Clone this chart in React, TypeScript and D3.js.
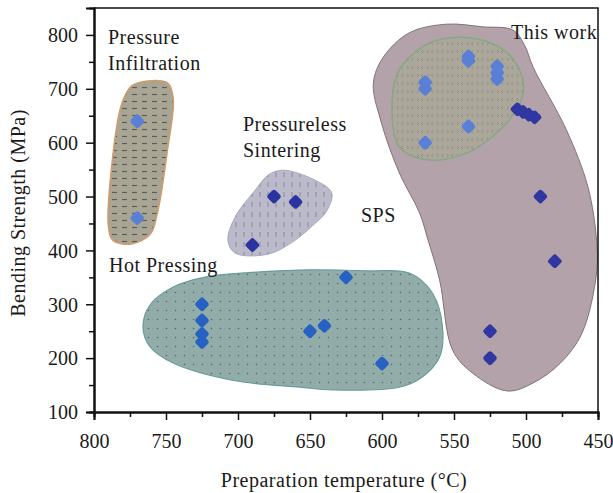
import React, { useEffect, useRef } from 'react';
import * as d3 from 'd3';

const W = 613;
const H = 493;
const FONT = '"Liberation Serif", "DejaVu Serif", serif';

// axis ticks
const xTicks = [800, 750, 700, 650, 600, 550, 500, 450];
const xMinorTicks = [775, 725, 675, 625, 575, 525, 475];
const yTicks = [100, 200, 300, 400, 500, 600, 700, 800];
const yMinorTicks = [150, 250, 350, 450, 550, 650, 750];

// region outlines, [temperature °C, strength MPa]
const infiltrationRegion = [
  [761, 715], [749, 711], [745, 683], [749, 586], [756, 469], [761, 430],
  [774, 412], [787, 419], [790, 445], [788, 549], [781, 670], [774, 705],
];
const pressurelessRegion = [
  [669, 549], [647, 531], [635, 507], [638, 475], [649, 444], [663, 414],
  [679, 393], [702, 395], [707, 419], [702, 462], [688, 512], [679, 540],
];
const hotPressingRegion = [
  [766, 258], [761, 299], [745, 332], [722, 351], [685, 360], [650, 364],
  [610, 362], [581, 358], [565, 321], [558, 258], [560, 202], [572, 165],
  [588, 146], [634, 141], [657, 146], [704, 159], [745, 191], [761, 221],
];
const thisWorkRegion = [
  [555, 820], [530, 815], [509, 809], [501, 781], [495, 740], [472, 624],
  [457, 518], [451, 419], [451, 358], [461, 247], [476, 191], [495, 154],
  [513, 139], [537, 172], [551, 215], [560, 345], [568, 419], [574, 470],
  [588, 544], [601, 642], [606, 711], [599, 759], [581, 804],
];
const spsRegion = [
  [567, 785], [537, 794], [513, 767], [502, 716], [504, 674], [518, 624],
  [541, 581], [567, 568], [588, 592], [593, 674], [588, 735],
];

// measured points
const infiltrationPoints = [[770, 640], [770, 460]];
const pressurelessPoints = [[675, 500], [660, 490], [690, 410]];
const hotPressingPoints = [
  [725, 300], [725, 270], [725, 245], [725, 230],
  [650, 250], [640, 260], [625, 350], [600, 190],
];
const spsPoints = [
  [570, 700], [570, 712], [540, 752], [540, 760], [520, 718], [520, 730],
  [520, 742], [540, 630], [570, 600],
];
const thisWorkPoints = [
  [506, 662], [502, 657], [498, 652], [494, 647],
  [490, 500], [480, 380], [525, 250], [525, 200],
];

const App = () => {
  const svgRef = useRef(null);

  useEffect(() => {
    const svg = d3.select(svgRef.current);
    svg.selectAll('*').remove();

    const x = d3.scaleLinear().domain([800, 450]).range([94, 598]);
    const y = d3.scaleLinear().domain([100, 850]).range([412, 8]);

    const defs = svg.append('defs');

    // horizontal dashes
    const p1 = defs.append('pattern').attr('id', 'dash-h')
      .attr('patternUnits', 'userSpaceOnUse').attr('width', 10).attr('height', 7);
    p1.append('rect').attr('width', 10).attr('height', 7).attr('fill', '#a8a594');
    p1.append('line').attr('x1', 2).attr('x2', 7).attr('y1', 3.5).attr('y2', 3.5)
      .attr('stroke', '#5e5e58').attr('stroke-width', 1.2);

    // vertical dashes
    const p2 = defs.append('pattern').attr('id', 'dash-v')
      .attr('patternUnits', 'userSpaceOnUse').attr('width', 8).attr('height', 10);
    p2.append('rect').attr('width', 8).attr('height', 10).attr('fill', '#babaca');
    p2.append('line').attr('x1', 4).attr('x2', 4).attr('y1', 2).attr('y2', 7)
      .attr('stroke', '#8a8a98').attr('stroke-width', 1);

    // dots
    const p3 = defs.append('pattern').attr('id', 'dots')
      .attr('patternUnits', 'userSpaceOnUse').attr('width', 9).attr('height', 9);
    p3.append('rect').attr('width', 9).attr('height', 9).attr('fill', '#92acaa');
    p3.append('circle').attr('cx', 4.5).attr('cy', 4.5).attr('r', 0.8).attr('fill', '#4f6a6a');

    // chevrons
    const p4 = defs.append('pattern').attr('id', 'chev')
      .attr('patternUnits', 'userSpaceOnUse').attr('width', 10).attr('height', 8);
    p4.append('rect').attr('width', 10).attr('height', 8).attr('fill', '#aba79b');
    p4.append('path').attr('d', 'M3,2 L1.5,3.5 L3,5 M7,2 L8.5,3.5 L7,5')
      .attr('fill', 'none').attr('stroke', '#86847c').attr('stroke-width', 0.8);

    const line = d3.line()
      .x(d => x(d[0]))
      .y(d => y(d[1]))
      .curve(d3.curveCatmullRomClosed.alpha(0.5));

    const regions = [
      { pts: thisWorkRegion, fill: '#b3a2a9', stroke: '#7f7379', sw: 1 },
      { pts: spsRegion, fill: 'url(#chev)', stroke: '#86a882', sw: 1.5 },
      { pts: hotPressingRegion, fill: 'url(#dots)', stroke: '#6a9d9b', sw: 1.2 },
      { pts: pressurelessRegion, fill: 'url(#dash-v)', stroke: '#a9a9c2', sw: 1 },
      { pts: infiltrationRegion, fill: 'url(#dash-h)', stroke: '#d39a6c', sw: 1.5 },
    ];
    svg.append('g').selectAll('path')
      .data(regions)
      .enter()
      .append('path')
      .attr('d', d => line(d.pts))
      .attr('fill', d => d.fill)
      .attr('stroke', d => d.stroke)
      .attr('stroke-width', d => d.sw);

    // rounded diamonds
    const sym = d3.symbol(d3.symbolSquare, 36);
    const groups = [
      { pts: infiltrationPoints, color: '#5a7fd6' },
      { pts: spsPoints, color: '#5a7fd6' },
      { pts: hotPressingPoints, color: '#2662c2' },
      { pts: pressurelessPoints, color: '#2b33a0' },
      { pts: thisWorkPoints, color: '#3137a2' },
    ];
    groups.forEach(g => {
      svg.append('g').selectAll('path')
        .data(g.pts)
        .enter()
        .append('path')
        .attr('d', sym())
        .attr('transform', d => `translate(${x(d[0])},${y(d[1])}) rotate(45)`)
        .attr('fill', g.color)
        .attr('stroke', g.color)
        .attr('stroke-width', 5)
        .attr('stroke-linejoin', 'round');
    });

    // frame
    svg.append('path')
      .attr('d', `M${x(800)},${y(850)} H${x(450)} V${y(100)}`)
      .attr('fill', 'none').attr('stroke', '#111').attr('stroke-width', 1.5);

    // axes
    const xAxis = svg.append('g').attr('transform', `translate(0,${y(100)})`);
    xAxis.call(d3.axisBottom(x).tickValues(xTicks).tickSize(8).tickFormat(d3.format('d')));
    xAxis.append('g').call(d3.axisBottom(x).tickValues(xMinorTicks).tickSize(5).tickFormat(() => ''));
    const yAxis = svg.append('g').attr('transform', `translate(${x(800)},0)`);
    yAxis.call(d3.axisLeft(y).tickValues(yTicks).tickSize(8).tickFormat(d3.format('d')));
    yAxis.append('g').call(d3.axisLeft(y).tickValues(yMinorTicks).tickSize(5).tickFormat(() => ''));

    svg.selectAll('.domain').attr('stroke', '#111').attr('stroke-width', 2);
    svg.selectAll('.tick line').attr('stroke', '#111').attr('stroke-width', 1.5);
    svg.selectAll('.tick text')
      .attr('font-family', FONT).attr('font-size', 20).attr('fill', '#1a1a1a');
    xAxis.selectAll('.tick text').attr('dy', null).attr('y', 36);
    yAxis.selectAll('.tick text').attr('x', -16).attr('dy', '0.34em');

    // axis titles
    svg.append('text')
      .attr('x', 344).attr('y', 487)
      .attr('text-anchor', 'middle')
      .attr('font-family', FONT).attr('font-size', 20).attr('letter-spacing', 0.5)
      .attr('fill', '#1a1a1a')
      .text('Preparation temperature (°C)');
    svg.append('text')
      .attr('transform', 'translate(25,213) rotate(-90)')
      .attr('text-anchor', 'middle')
      .attr('font-family', FONT).attr('font-size', 20).attr('letter-spacing', 0.5)
      .attr('fill', '#1a1a1a')
      .text('Bending Strength (MPa)');

    // region labels
    const labels = [
      { t: 'Pressure', x: 108, y: 44 },
      { t: 'Infiltration', x: 108, y: 70 },
      { t: 'Pressureless', x: 243, y: 131 },
      { t: 'Sintering', x: 243, y: 157 },
      { t: 'SPS', x: 361, y: 222 },
      { t: 'Hot Pressing', x: 109, y: 272 },
      { t: 'This work', x: 511, y: 39 },
    ];
    svg.append('g').selectAll('text')
      .data(labels)
      .enter()
      .append('text')
      .attr('x', d => d.x).attr('y', d => d.y)
      .attr('font-family', FONT).attr('font-size', 20).attr('letter-spacing', 0.5)
      .attr('fill', '#1a1a1a')
      .text(d => d.t);
  }, []);

  return (
    <div>
      <style>{'body{margin:0}'}</style>
      <svg ref={svgRef} width={W} height={H} style={{ display: 'block', background: '#fff' }}></svg>
    </div>
  );
};

export default App;
